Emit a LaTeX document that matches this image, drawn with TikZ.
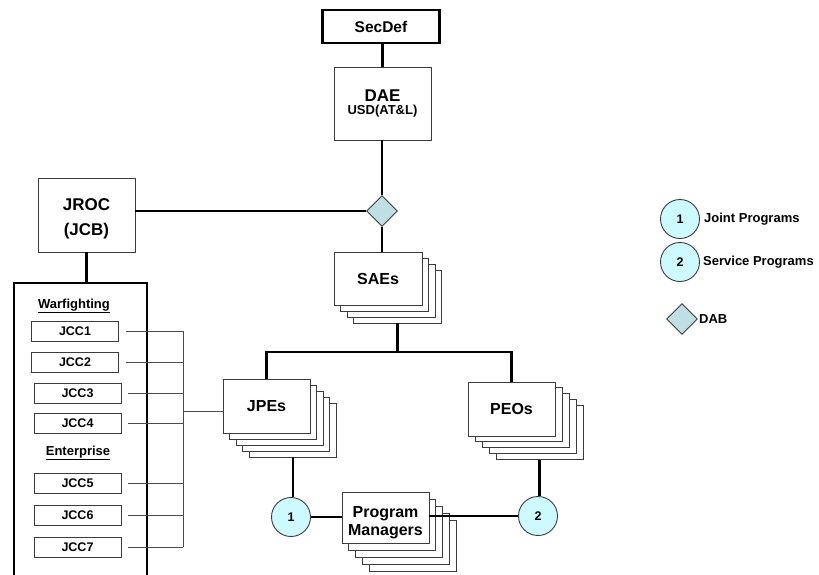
\documentclass[tikz,border=0pt]{standalone}
\usepackage{fontspec}
\setmainfont{Liberation Sans}
\usetikzlibrary{shapes.geometric}

\definecolor{progcyan}{RGB}{204,250,255}
\definecolor{dabblue}{RGB}{190,224,228}
\definecolor{edgegray}{RGB}{60,60,60}

\begin{document}
\begin{tikzpicture}[x=1pt,y=-1pt,
  box/.style={draw=edgegray,line width=0.9pt,fill=white,inner sep=0pt,align=center,font=\bfseries\fontsize{16}{18}\selectfont},
  layer/.style={draw=edgegray,line width=0.9pt,fill=white,inner sep=0pt},
  heavybox/.style={draw=black,line width=2.6pt,inner sep=0pt},
  jccbox/.style={draw=edgegray,line width=0.9pt,minimum width=87pt,minimum height=20pt,inner sep=0pt,font=\bfseries\fontsize{12.5}{14}\selectfont},
  prog/.style={circle,draw=edgegray,line width=0.9pt,fill=progcyan,minimum size=39pt,inner sep=0pt,font=\bfseries\fontsize{12.5}{14}\selectfont},
  dab/.style={diamond,draw=edgegray,line width=0.9pt,fill=dabblue,minimum width=31pt,minimum height=31pt,inner sep=0pt},
  link/.style={line width=2.5pt},
  jcclink/.style={line width=1pt,draw=black!70},
  legend/.style={anchor=west,inner sep=0pt,font=\bfseries\fontsize{13}{15}\selectfont}]
\useasboundingbox (0,0) rectangle (819,574);

% top of the chain
\node[box,heavybox,minimum width=117pt,minimum height=33pt,font=\bfseries\fontsize{15.5}{17}\selectfont] (secdef) at (381,26.5) {SecDef};
\node[box,minimum width=97pt,minimum height=73pt] (dae) at (382.5,103.5)
  {\fontsize{17}{17}\selectfont DAE\\[-5pt]\fontsize{13}{15}\selectfont USD(AT\&L)};
\node[dab] (dabc) at (382,211) {};
\node[box,minimum width=97pt,minimum height=74pt,font=\bfseries\fontsize{17}{24.5}\selectfont] (jroc) at (86.5,215) {\rule{0pt}{20pt}JROC\\(JCB)};

% stacks
\foreach \k in {3,2,1}
  \node[layer,minimum width=88pt,minimum height=53pt] (saes\k) at (378+6.5*\k,278.5+6*\k) {};
\node[box,minimum width=88pt,minimum height=53pt] (saes) at (378,278.5) {SAEs};

\foreach \k in {4,3,2,1}
  \node[layer,minimum width=87pt,minimum height=54pt] (jpes\k) at (266.5+6.6*\k,406+6*\k) {};
\node[box,minimum width=87pt,minimum height=54pt] (jpes) at (266.5,406) {JPEs};

\foreach \k in {4,3,2,1}
  \node[layer,minimum width=87pt,minimum height=54pt] (peos\k) at (511.5+7*\k,409+5.8*\k) {};
\node[box,minimum width=87pt,minimum height=54pt] (peos) at (511.5,409) {PEOs};

\foreach \k in {4,3,2,1}
  \node[layer,minimum width=87pt,minimum height=51pt] (pm\k) at (385.5+6.75*\k,517.5+7*\k) {};
\node[box,minimum width=87pt,minimum height=51pt] (pm) at (385.5,517.5) {\rule{0pt}{21.5pt}Program\\Managers};

\node[prog] (c1) at (291,517) {1};
\node[prog] (c2) at (538,516) {2};

% links
\coordinate (split) at (399,352);
\draw[link] (secdef.south -| dae) -- (dae.north);
\draw[link] (dae.south -| dabc) -- (dabc.north);
\draw[link] (jroc.east |- dabc) -- (dabc.west);
\draw[link] (dabc.south) -- (dabc.south |- saes.north);
\draw[link] (saes3.south) -- (saes3.south |- split);
\draw[link] (jpes.north) |- (split) -| (peos.north);
\draw[link] (jpes4.south) -- (jpes4.south |- c1.north);
\draw[link] (peos4.south) -- (peos4.south |- c2.north);
\draw[link] (c1.east) -- (c1.east -| pm.west);
\draw[link] (pm.east |- c2.west) -- (c2.west);

% capability box
\node[heavybox,minimum width=133pt,minimum height=310pt] (ccbox) at (80.5,438) {};
\draw[link] (jroc.south) -- (jroc.south |- ccbox.north);
\node[font=\bfseries\fontsize{13}{15}\selectfont] (warf) at (74,306) {\underline{Warfighting}};
\node[font=\bfseries\fontsize{13}{15}\selectfont] (ent) at (78,453) {\underline{Enterprise}};
\foreach \n/\x/\y in {1/75/331,2/75/362,3/77.5/393,4/77.5/423,5/77.5/483,6/77.5/515,7/77.5/547}
  \node[jccbox] (jcc\n) at (\x,\y) {JCC\n};

\coordinate (hub) at (183,411);
\foreach \n in {1,...,7}
  \draw[jcclink] ([xshift=7pt]jcc\n.east) -- (jcc\n.east -| hub);
\draw[jcclink] (jcc1.east -| hub) -- (jcc7.east -| hub);
\draw[jcclink] (hub) -- (hub -| jpes.west);

% key
\node[prog] (key1) at (680,219) {1};
\node[legend] (key1txt) at (704,219) {Joint Programs};
\node[prog] (key2) at (680,262) {2};
\node[legend] (key2txt) at (703,262) {Service Programs};
\node[dab] (key3) at (682,319) {};
\node[legend] (key3txt) at (699,319) {DAB};
\end{tikzpicture}
\end{document}
